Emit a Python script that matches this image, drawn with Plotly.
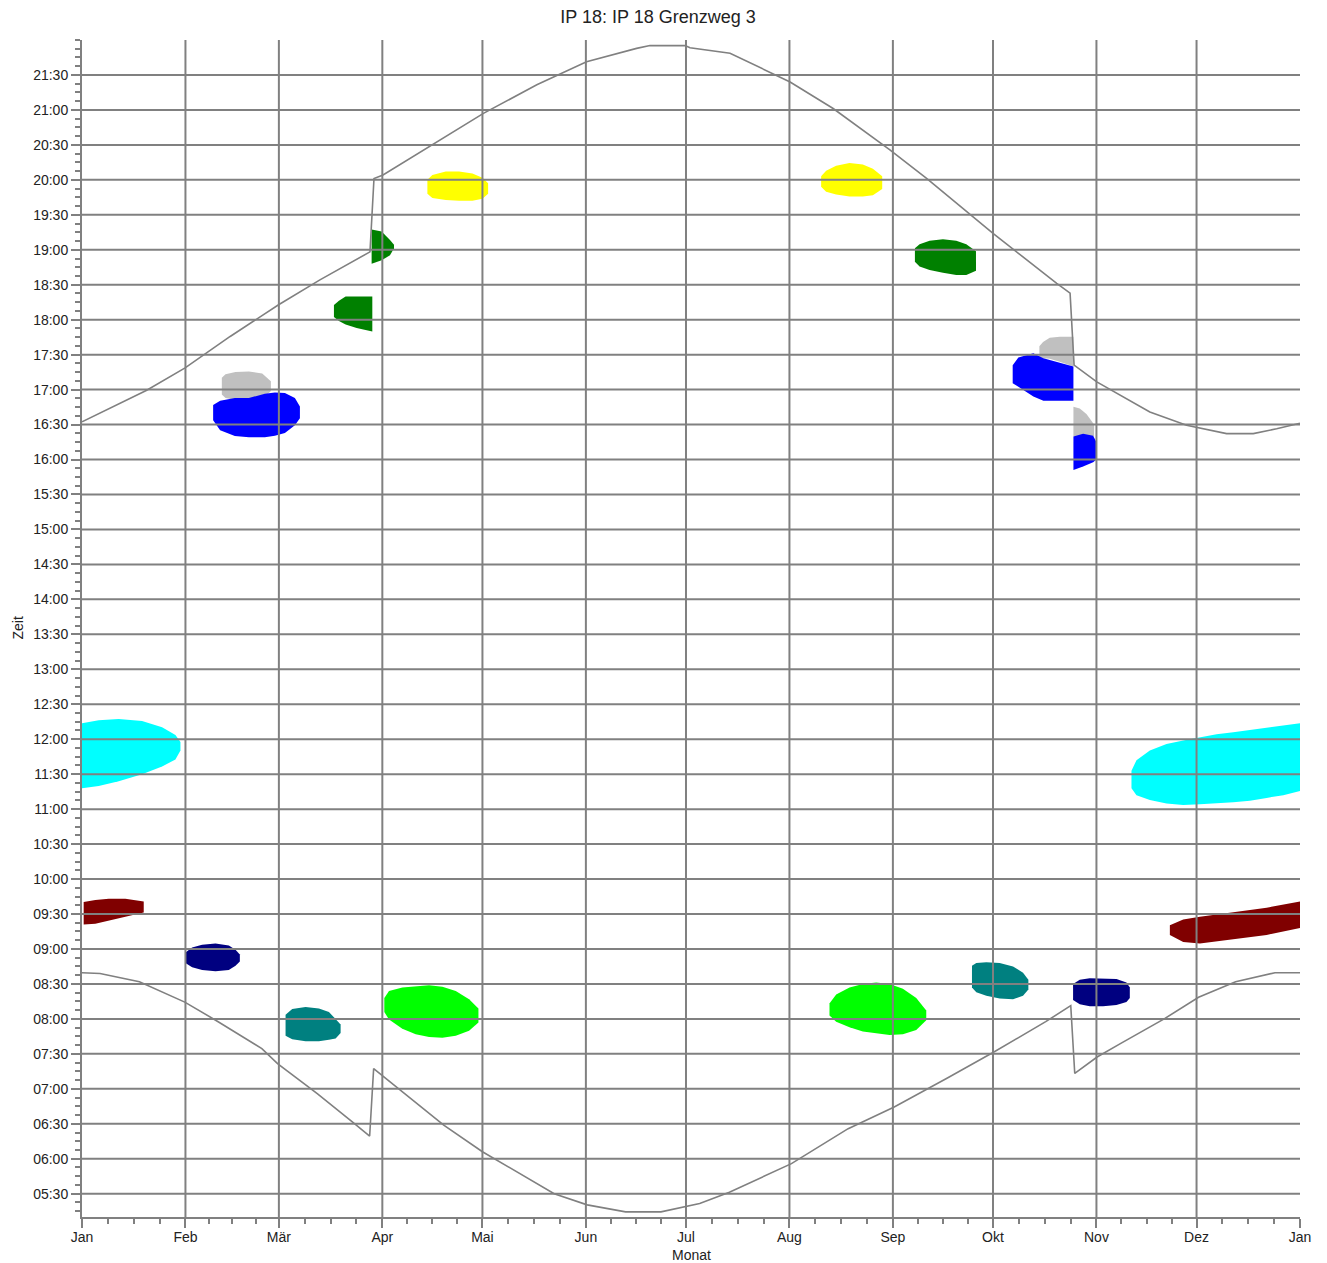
import plotly.graph_objects as go

# ---------------- data ----------------
month_labels = ["Jan", "Feb", "Mär", "Apr", "Mai", "Jun", "Jul", "Aug", "Sep", "Okt", "Nov", "Dez", "Jan"]
month_starts = [0, 31, 59, 90, 120, 151, 181, 212, 243, 273, 304, 334, 365]

time_labels = ["05:30", "06:00", "06:30", "07:00", "07:30", "08:00", "08:30", "09:00", "09:30",
               "10:00", "10:30", "11:00", "11:30", "12:00", "12:30", "13:00", "13:30", "14:00",
               "14:30", "15:00", "15:30", "16:00", "16:30", "17:00", "17:30", "18:00", "18:30",
               "19:00", "19:30", "20:00", "20:30", "21:00", "21:30"]

# sunset (upper grey curve): day of year, time in hours
sunset_days = [0, 19.4, 30.9, 44.4, 58.8, 71.3, 86.3, 87.5, 90.2, 103.3, 120.3, 136.3, 151.2, 166.2,
               170.2, 180.7, 182.2, 194.2, 212.2, 225.1, 242.1, 253.1, 273.1, 292.1, 296.1, 297.3,
               304.1, 320.0, 331.0, 343.0, 351.0, 358.0, 365]
sunset_hours = [16.54, 16.99, 17.31, 17.76, 18.21, 18.57, 18.97, 20.02, 20.07, 20.45, 20.95, 21.36,
                21.69, 21.88, 21.92, 21.92, 21.89, 21.81, 21.40, 21.02, 20.43, 20.02, 19.23, 18.52,
                18.38, 17.35, 17.11, 16.68, 16.49, 16.37, 16.37, 16.44, 16.52]

# sunrise (lower grey curve)
sunrise_days = [0, 5.4, 17.2, 30.8, 40.8, 53.9, 58.6, 70.5, 81.1, 86.2, 87.4, 94.2, 108.4, 120.0,
                129.7, 141.5, 151.4, 162.9, 173.5, 180.6, 185.1, 194.0, 212.6, 229.6, 243.4, 259.2,
                273.4, 288.8, 296.3, 297.5, 304.2, 311.3, 324.3, 334.6, 345.7, 357.5, 365]
sunrise_hours = [8.66, 8.65, 8.53, 8.24, 7.96, 7.575, 7.36, 6.93, 6.525, 6.325, 7.29, 7.03, 6.48,
                 6.10, 5.83, 5.50, 5.34, 5.24, 5.24, 5.31, 5.36, 5.52, 5.93, 6.43, 6.74, 7.15, 7.53,
                 7.96, 8.19, 7.22, 7.455, 7.65, 8.00, 8.31, 8.53, 8.66, 8.66]

# shadow periods: (day, upper time, lower time) in hours
cyan_jan = [(0, 12.23, 11.30), (5, 12.27, 11.33), (11, 12.29, 11.40), (18, 12.26, 11.50),
            (24, 12.17, 11.61), (28, 12.06, 11.71), (29.5, 11.96, 11.84)]
cyan_dec = [(314.5, 11.55, 11.30), (316, 11.70, 11.20), (320, 11.84, 11.13), (325, 11.93, 11.08),
            (330, 11.98, 11.06), (335, 12.03, 11.07), (340, 12.07, 11.08), (345, 12.10, 11.10),
            (350, 12.13, 11.12), (355, 12.17, 11.16), (360, 12.20, 11.20), (365, 12.23, 11.26)]
maroon_jan = [(0.5, 9.67, 9.35), (4, 9.70, 9.36), (8, 9.72, 9.40), (13, 9.72, 9.46), (18.5, 9.68, 9.52)]
maroon_dec = [(326, 9.34, 9.20), (330, 9.42, 9.10), (335, 9.46, 9.08), (345, 9.52, 9.14),
              (355, 9.59, 9.20), (365, 9.68, 9.30)]
navy_feb = [(31, 8.95, 8.80), (33, 9.02, 8.74), (36, 9.06, 8.70), (40, 9.08, 8.68), (44, 9.05, 8.70),
            (46, 8.99, 8.76), (47.3, 8.92, 8.82)]
navy_nov = [(297, 8.50, 8.27), (299, 8.56, 8.21), (302, 8.58, 8.18), (306, 8.58, 8.18),
            (310, 8.57, 8.20), (313, 8.52, 8.24), (314, 8.45, 8.30)]
teal_mar = [(61, 8.06, 7.76), (63, 8.14, 7.71), (67, 8.17, 7.68), (71, 8.15, 7.68), (74, 8.10, 7.70),
            (76, 8.00, 7.72), (77.5, 7.92, 7.80)]
teal_oct = [(266.7, 8.76, 8.45), (268, 8.80, 8.38), (271, 8.81, 8.33), (275, 8.80, 8.29),
            (279, 8.75, 8.28), (282, 8.66, 8.33), (283.6, 8.56, 8.42)]
lime_apr = [(90.6, 8.30, 8.10), (92, 8.40, 7.99), (96, 8.45, 7.86), (100, 8.47, 7.78), (104, 8.48, 7.74),
            (108, 8.46, 7.73), (112, 8.40, 7.76), (116, 8.28, 7.83), (118.8, 8.15, 7.95)]
lime_sep = [(224, 8.22, 8.05), (226, 8.35, 7.96), (230, 8.45, 7.88), (234, 8.50, 7.82), (238, 8.52, 7.79),
            (242, 8.50, 7.77), (246, 8.43, 7.78), (250, 8.30, 7.84), (253, 8.12, 7.98)]
yellow_apr = [(103.5, 20.00, 19.80), (105, 20.07, 19.74), (109, 20.12, 19.71), (113, 20.12, 19.70),
              (117, 20.09, 19.70), (120, 20.03, 19.73), (121.7, 19.95, 19.80)]
yellow_aug = [(221.5, 20.05, 19.90), (223, 20.13, 19.83), (226, 20.20, 19.79), (230, 20.24, 19.76),
              (234, 20.22, 19.76), (237, 20.16, 19.78), (239.8, 20.05, 19.87)]
green_mar_a = [(75.5, 18.21, 18.04), (77, 18.27, 17.98), (79, 18.33, 17.93), (82.3, 18.33, 17.88),
               (85, 18.33, 17.85), (87.0, 18.33, 17.83)]
green_mar_b = [(86.8, 19.29, 18.80), (89.8, 19.26, 18.85), (92.3, 19.14, 18.92), (93.5, 19.07, 19.02)]
green_sep = [(249.6, 19.02, 18.83), (251, 19.08, 18.76), (254, 19.13, 18.71), (258, 19.15, 18.67),
             (262, 19.13, 18.64), (265, 19.08, 18.64), (267.9, 18.98, 18.70)]
silver_feb = [(41.9, 17.17, 16.93), (43, 17.22, 16.88), (46, 17.25, 16.85), (50, 17.26, 16.84),
              (54, 17.23, 16.86), (56.6, 17.12, 16.98)]
blue_feb = [(39.3, 16.78, 16.56), (41.4, 16.84, 16.42), (45.8, 16.88, 16.335), (50, 16.88, 16.32),
            (54.8, 16.94, 16.32), (57.8, 16.96, 16.34), (60.8, 16.95, 16.38), (63.8, 16.88, 16.49),
            (65.3, 16.76, 16.59)]
silver_oct = [(286.9, 17.62, 17.45), (288, 17.68, 17.45), (290, 17.74, 17.44), (293, 17.755, 17.40),
              (297.1, 17.755, 17.33)]
blue_oct = [(278.9, 17.35, 17.09), (280.6, 17.46, 17.04), (285.1, 17.52, 16.90), (288.1, 17.45, 16.84),
            (297.1, 17.33, 16.84)]
silver_nov = [(297.1, 16.755, 16.33), (299, 16.73, 16.33), (301, 16.65, 16.33), (303.3, 16.50, 16.33)]
blue_nov = [(297.1, 16.33, 15.85), (300, 16.37, 15.90), (303, 16.34, 15.96), (304, 16.25, 16.00)]

blobs = [
    (cyan_jan, "#00FFFF"), (cyan_dec, "#00FFFF"),
    (maroon_jan, "#800000"), (maroon_dec, "#800000"),
    (navy_feb, "#000080"), (navy_nov, "#000080"),
    (teal_mar, "#008080"), (teal_oct, "#008080"),
    (lime_apr, "#00FF00"), (lime_sep, "#00FF00"),
    (yellow_apr, "#FFFF00"), (yellow_aug, "#FFFF00"),
    (green_mar_a, "#008000"), (green_mar_b, "#008000"), (green_sep, "#008000"),
    (silver_feb, "#C0C0C0"), (blue_feb, "#0000FF"),
    (silver_oct, "#C0C0C0"), (blue_oct, "#0000FF"),
    (silver_nov, "#C0C0C0"), (blue_nov, "#0000FF"),
]

# ---------------- figure ----------------
GRID = "#808080"
Y_MIN, Y_MAX = 5 + 10 / 60, 22.0
FIG_W, FIG_H = 1327, 1263
ML, MR, MT, MB = 82, 27, 40, 46
PLOT_W, PLOT_H = FIG_W - ML - MR, FIG_H - MT - MB


def to_hours(label):
    h, m = label.split(":")
    return int(h) + int(m) / 60


time_vals = [to_hours(t) for t in time_labels]

fig = go.Figure()

for pts, col in blobs:
    xs = [p[0] for p in pts] + [p[0] for p in reversed(pts)]
    ys = [p[1] for p in pts] + [p[2] for p in reversed(pts)]
    fig.add_trace(go.Scatter(x=xs, y=ys, fill="toself", fillcolor=col, mode="lines",
                             line=dict(width=0, color=col), hoverinfo="skip", showlegend=False))

# grid drawn above the shadow areas
gx, gy = [], []
for d in month_starts[1:-1]:
    gx += [d, d, None]
    gy += [Y_MIN, Y_MAX, None]
for v in time_vals:
    gx += [0, 365.6, None]
    gy += [v, v, None]
fig.add_trace(go.Scatter(x=gx, y=gy, mode="lines", line=dict(color=GRID, width=2),
                         hoverinfo="skip", showlegend=False, cliponaxis=False))

fig.add_trace(go.Scatter(x=sunset_days, y=sunset_hours, mode="lines",
                         line=dict(color=GRID, width=1.6), showlegend=False))
fig.add_trace(go.Scatter(x=sunrise_days, y=sunrise_hours, mode="lines",
                         line=dict(color=GRID, width=1.6), showlegend=False))

minor_x = []
for a, b in zip(month_starts[:-1], month_starts[1:]):
    minor_x += [a + k * (b - a) / 4 for k in (1, 2, 3)]

FONT = "Arial, Liberation Sans, sans-serif"

fig.update_layout(
    width=FIG_W, height=FIG_H,
    margin=dict(l=ML, r=MR, t=MT, b=MB),
    paper_bgcolor="white", plot_bgcolor="white",
    font=dict(family=FONT, size=14, color="#222222"),
    title=dict(text="IP 18: IP 18 Grenzweg 3", x=658 / FIG_W, xanchor="center",
               y=1 - 17 / FIG_H, yanchor="middle", yref="container",
               font=dict(size=18, color="#222222", family=FONT)),
    xaxis=dict(range=[0, 365], showgrid=False, zeroline=False, automargin=False,
               showline=True, linecolor=GRID, linewidth=2,
               tickmode="array", tickvals=month_starts, ticktext=month_labels,
               ticks="outside", ticklen=9, tickwidth=2, tickcolor=GRID, ticklabelstandoff=-3,
               minor=dict(tickmode="array", tickvals=minor_x, ticks="outside",
                          ticklen=5, tickwidth=2, tickcolor=GRID, showgrid=False)),
    yaxis=dict(range=[Y_MIN, Y_MAX], showgrid=False, zeroline=False, automargin=False,
               showline=True, linecolor=GRID, linewidth=2,
               tickmode="array", tickvals=time_vals, ticktext=time_labels,
               ticks="outside", ticklen=9, tickwidth=2, tickcolor=GRID,
               minor=dict(tickmode="linear", tick0=0, dtick=0.125, ticks="outside",
                          ticklen=5, tickwidth=2, tickcolor=GRID, showgrid=False)),
    annotations=[
        dict(text="Monat", xref="paper", yref="paper", x=0.5, y=-(1255 - (FIG_H - MB)) / PLOT_H,
             xanchor="center", yanchor="middle", showarrow=False, font=dict(size=14)),
        dict(text="Zeit", xref="paper", yref="paper", x=(17 - ML) / PLOT_W, y=0.5,
             xanchor="center", yanchor="middle", textangle=-90, showarrow=False,
             font=dict(size=14)),
    ],
)

fig.write_html("out.html", config={"displayModeBar": False},
               post_script="document.body.style.margin='0px';")
